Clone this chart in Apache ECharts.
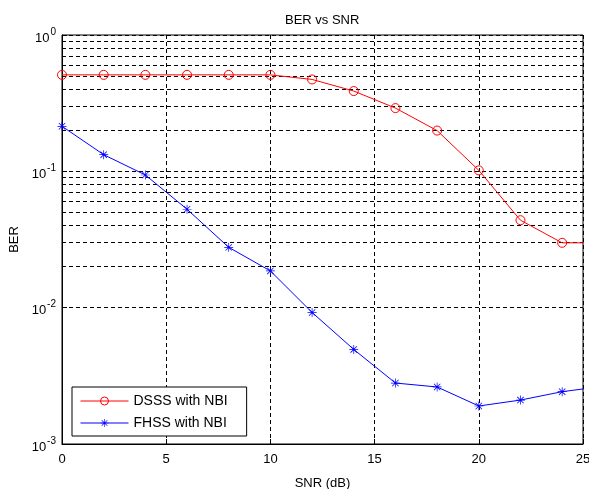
<!DOCTYPE html>
<html>
<head>
<meta charset="utf-8">
<script src="https://cdn.jsdelivr.net/npm/echarts@6/dist/echarts.min.js"></script>
<style>
  html, body { margin: 0; padding: 0; background: #fff; }
  #chart { width: 589px; height: 489px; }
</style>
</head>
<body>
<div id="chart"></div>
<script>
// SNR 点 (dB)，最后一点在坐标轴范围外，只为画出到 25 的线段
const snr = [0, 2, 4, 6, 8, 10, 12, 14, 16, 18, 20, 22, 24, 26];
const dsssBer = [0.51, 0.51, 0.51, 0.51, 0.51, 0.51, 0.472, 0.388, 0.291, 0.199, 0.1017, 0.0438, 0.0299, 0.0299];
const fhssBer = [0.214, 0.1325, 0.094, 0.0527, 0.0277, 0.0186, 0.00922, 0.00494, 0.0028, 0.00262, 0.0019, 0.0021, 0.00242, 0.00265];

// 对数坐标的次网格线
const minorGrid = [
  0.002, 0.003, 0.004, 0.005, 0.006, 0.007, 0.008, 0.009,
  0.02, 0.03, 0.04, 0.05, 0.06, 0.07, 0.08, 0.09,
  0.2, 0.3, 0.4, 0.5, 0.6, 0.7, 0.8, 0.9
];

const fontFamily = 'Liberation Sans, Arial, sans-serif';
const dash = [4, 3];

// MATLAB 风格的 '*' 标记
const starPath = 'path://M9.2 0H10.8V20H9.2Z M0 9.2H20V10.8H0Z ' +
  'M3.5 2.3L17.7 16.5L16.5 17.7L2.3 3.5Z M16.5 2.3L17.7 3.5L3.5 17.7L2.3 16.5Z';

const toPairs = (xs, ys) => xs.map((x, i) => [x, ys[i]]);

const myChart = echarts.init(document.getElementById('chart'));

const option = {
  backgroundColor: '#fff',
  animation: false,
  textStyle: { fontFamily: fontFamily },
  title: {
    text: 'BER vs SNR',
    left: 280,
    top: 9,
    textStyle: { fontSize: 13, fontWeight: 'normal', color: '#000', fontFamily: fontFamily }
  },
  grid: {
    left: 62,
    right: 6,
    top: 35,
    bottom: 45,
    outerBoundsMode: 'none',
    show: true,
    borderColor: '#000',
    borderWidth: 1,
    backgroundColor: '#fff'
  },
  legend: {
    orient: 'vertical',
    left: 72,
    top: 387,
    itemWidth: 48,
    itemHeight: 10,
    itemGap: 8,
    padding: [7, 19, 6, 8],
    borderColor: '#000',
    borderWidth: 1,
    borderRadius: 0,
    backgroundColor: '#fff',
    itemStyle: { borderWidth: 1 },
    lineStyle: { width: 1 },
    textStyle: { fontSize: 14, color: '#000', fontFamily: fontFamily },
    data: ['DSSS with NBI', 'FHSS with NBI']
  },
  xAxis: {
    type: 'value',
    min: 0,
    max: 25,
    interval: 5,
    name: 'SNR (dB)',
    nameLocation: 'middle',
    nameGap: 33,
    nameTextStyle: { fontSize: 13, color: '#000' },
    axisLine: { show: true, lineStyle: { color: '#000', width: 1 } },
    axisTick: { show: true, inside: true, length: 5, lineStyle: { color: '#000' } },
    axisLabel: { fontSize: 13, color: '#000', margin: 9 },
    splitLine: { show: true, lineStyle: { color: '#000', type: dash, width: 1 } }
  },
  yAxis: {
    type: 'log',
    logBase: 10,
    min: 0.001,
    max: 1,
    name: 'BER',
    nameLocation: 'middle',
    nameGap: 39,
    nameTextStyle: { fontSize: 13, color: '#000' },
    axisLine: { show: true, lineStyle: { color: '#000', width: 1 } },
    axisTick: { show: true, inside: true, length: 5, lineStyle: { color: '#000' } },
    axisLabel: {
      margin: 6,
      formatter: v => '{b|10}{e|' + Math.round(Math.log10(v)) + '}',
      rich: {
        b: { fontSize: 13, color: '#000', padding: [6, 0, 0, 0] },
        e: { fontSize: 10, color: '#000', padding: [0, 0, 6, 1] }
      }
    },
    splitLine: { show: true, lineStyle: { color: '#000', type: dash, width: 1 } }
  },
  series: [
    {
      name: 'DSSS with NBI',
      type: 'line',
      data: toPairs(snr, dsssBer),
      clip: true,
      symbol: 'circle',
      symbolSize: 9,
      showAllSymbol: true,
      lineStyle: { color: '#ff0000', width: 1 },
      itemStyle: { color: 'rgba(0,0,0,0)', borderColor: '#ff0000', borderWidth: 1 },
      z: 5,
      markLine: {
        silent: true,
        symbol: 'none',
        label: { show: false },
        lineStyle: { color: '#000', type: dash, width: 1 },
        data: minorGrid.map(v => ({ yAxis: v }))
      }
    },
    {
      name: 'FHSS with NBI',
      type: 'line',
      data: toPairs(snr, fhssBer),
      clip: true,
      symbol: starPath,
      symbolSize: 9,
      showAllSymbol: true,
      lineStyle: { color: '#0000ff', width: 1 },
      itemStyle: { color: '#0000ff' },
      z: 5
    }
  ]
};

myChart.setOption(option);
</script>
</body>
</html>
